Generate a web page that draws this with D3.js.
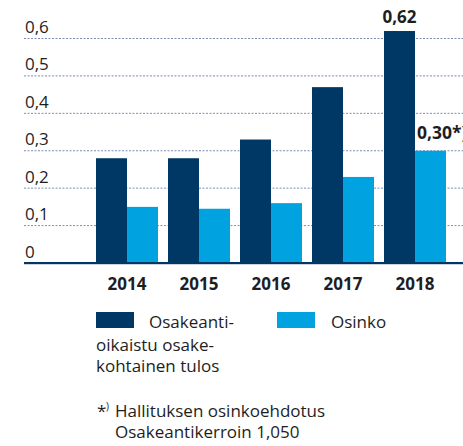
<!DOCTYPE html>
<html>
<head>
<meta charset="utf-8">
<style>
    body { margin: 0; background: #fff; }
    svg text { font-family: "Open Sans", sans-serif; fill: #1e1e1e; }
    .year { font-weight: 700; }
    .val { font-weight: 700; }
</style>
</head>
<body>
<svg width="463" height="446"></svg>
<script src="https://cdn.jsdelivr.net/npm/d3@7"></script>
<script>
    // data
    var years = ["2014", "2015", "2016", "2017", "2018"];
    var eps = [0.28, 0.28, 0.33, 0.47, 0.62];       // Osakeantioikaistu osakekohtainen tulos
    var dividend = [0.15, 0.145, 0.16, 0.23, 0.30]; // Osinko
    var yTicks = [0, 0.1, 0.2, 0.3, 0.4, 0.5, 0.6];
    var tickLabels = ["0", "0,1", "0,2", "0,3", "0,4", "0,5", "0,6"];
    var valueLabels = [null, null, null, null, "0,62"];
    var dividendLabels = [null, null, null, null, "0,30*)"];

    var darkBlue = "#003865",
        lightBlue = "#00a3e0";

    var svg = d3.select("svg");

    var y = d3.scaleLinear()
        .domain([0, 0.6])
        .range([263, 38.5]);

    var x = d3.scaleBand()
        .domain(years)
        .range([91, 451]);

    var sub = d3.scaleBand()
        .domain(["eps", "div"])
        .range([0, 62]);

    // gridlines
    svg.append("g")
        .selectAll("line")
        .data(yTicks.slice(1))
        .enter()
        .append("line")
        .attr("x1", 24)
        .attr("x2", 463)
        .attr("y1", function (d) { return y(d); })
        .attr("y2", function (d) { return y(d); })
        .attr("stroke", "#7d8db3")
        .attr("stroke-width", 1)
        .attr("stroke-dasharray", "2,1.5");

    // tick labels
    svg.append("g")
        .selectAll("text")
        .data(yTicks)
        .enter()
        .append("text")
        .attr("x", 25)
        .attr("y", function (d) { return y(d) - 5.5; })
        .attr("font-size", 17)
        .text(function (d, i) { return tickLabels[i]; });

    var groups = svg.append("g")
        .selectAll("g")
        .data(years)
        .enter()
        .append("g")
        .attr("transform", function (d) { return "translate(" + (x(d) + x.bandwidth() / 2 - 31) + ",0)"; });

    groups.append("rect")
        .attr("x", sub("eps"))
        .attr("width", sub.bandwidth())
        .attr("y", function (d, i) { return y(eps[i]); })
        .attr("height", function (d, i) { return y(0) - y(eps[i]); })
        .attr("fill", darkBlue);

    groups.append("rect")
        .attr("x", sub("div"))
        .attr("width", sub.bandwidth())
        .attr("y", function (d, i) { return y(dividend[i]); })
        .attr("height", function (d, i) { return y(0) - y(dividend[i]); })
        .attr("fill", lightBlue);

    groups.filter(function (d, i) { return valueLabels[i]; })
        .append("text")
        .attr("class", "val")
        .attr("x", sub("eps") + sub.bandwidth() / 2)
        .attr("y", function (d, i) { return y(eps[years.indexOf(d)]) - 8; })
        .attr("text-anchor", "middle")
        .attr("font-size", 17)
        .text(function (d) { return valueLabels[years.indexOf(d)]; });

    groups.filter(function (d, i) { return dividendLabels[i]; })
        .append("text")
        .attr("class", "val")
        .attr("x", sub("div") + 2)
        .attr("y", function (d) { return y(dividend[years.indexOf(d)]) - 12; })
        .attr("font-size", 17.5)
        .text(function (d) { return dividendLabels[years.indexOf(d)]; });

    // baseline
    svg.append("line")
        .attr("x1", 24).attr("x2", 463)
        .attr("y1", y(0) + 1).attr("y2", y(0) + 1)
        .attr("stroke", "#9aa8c0").attr("stroke-width", 1);
    svg.append("line")
        .attr("x1", 24).attr("x2", 463)
        .attr("y1", y(0)).attr("y2", y(0))
        .attr("stroke", darkBlue).attr("stroke-width", 2);

    // year labels
    svg.append("g")
        .selectAll("text")
        .data(years)
        .enter()
        .append("text")
        .attr("class", "year")
        .attr("x", function (d) { return x(d) + x.bandwidth() / 2; })
        .attr("y", 290)
        .attr("text-anchor", "middle")
        .attr("font-size", 17)
        .text(function (d) { return d; });

    // legend
    var legend = svg.append("g");
    legend.append("rect").attr("x", 96).attr("y", 312).attr("width", 38).attr("height", 16).attr("fill", darkBlue);
    legend.append("rect").attr("x", 277).attr("y", 312).attr("width", 38).attr("height", 16).attr("fill", lightBlue);
    legend.append("text").attr("x", 149).attr("y", 328).attr("font-size", 17).text("Osakeanti-");
    legend.append("text").attr("x", 96).attr("y", 351).attr("font-size", 17).text("oikaistu osake-");
    legend.append("text").attr("x", 96).attr("y", 372).attr("font-size", 17).text("kohtainen tulos");
    legend.append("text").attr("x", 331).attr("y", 328).attr("font-size", 17).text("Osinko");

    // footnote
    var note = svg.append("g");
    note.append("text").attr("x", 97).attr("y", 417).attr("font-size", 17).text("*");
    note.append("text").attr("x", 106).attr("y", 410).attr("font-size", 10).text(")");
    note.append("text").attr("x", 115).attr("y", 417).attr("font-size", 17).text("Hallituksen osinkoehdotus");
    note.append("text").attr("x", 115).attr("y", 438).attr("font-size", 17).text("Osakeantikerroin 1,050");
</script>
</body>
</html>
